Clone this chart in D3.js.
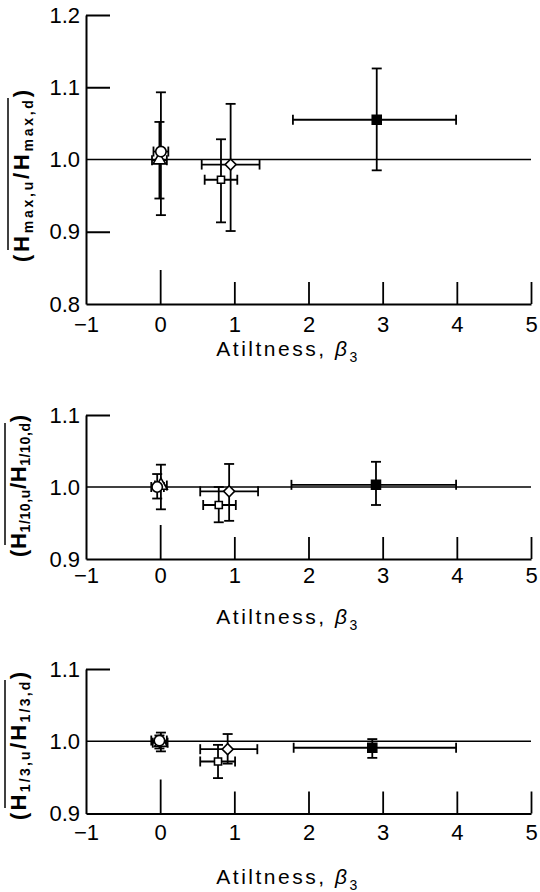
<!DOCTYPE html>
<html>
<meta charset="utf-8">
<style>
body { margin: 0; background: #fff; }
svg { display: block; }
.tick text, .lbl { font-family: "Liberation Sans", Arial, sans-serif; fill: #000; }
.domain, .tick line { stroke: #000; }
</style>
<body>
<script src="https://cdn.jsdelivr.net/npm/d3@7"></script>
<script>

// marker order used in every panel
var markers = ["triangle", "circle", "square", "diamond", "filled"];
var xTicks = [-1, 0, 1, 2, 3, 4, 5];

// panel 1 : H max
var maxX   = [-0.01, 0.01, 0.82, 0.95, 2.92];
var maxXLo = [-0.11, -0.09, 0.60, 0.56, 1.79];
var maxXHi = [0.09, 0.11, 1.04, 1.34, 3.99];
var maxY   = [0.999, 1.011, 0.972, 0.993, 1.055];
var maxYLo = [0.946, 0.923, 0.913, 0.901, 0.985];
var maxYHi = [1.052, 1.093, 1.028, 1.077, 1.126];

// panel 2 : H 1/10
var tenX   = [0.01, -0.04, 0.79, 0.93, 2.91];
var tenXLo = [-0.07, -0.12, 0.58, 0.54, 1.77];
var tenXHi = [0.09, 0.05, 1.02, 1.32, 3.99];
var tenY   = [1.002, 1.000, 0.975, 0.994, 1.003];
var tenYLo = [0.969, 0.984, 0.951, 0.953, 0.975];
var tenYHi = [1.031, 1.018, 1.000, 1.032, 1.035];

// panel 3 : H 1/3
var thirdX   = [0.01, -0.01, 0.78, 0.91, 2.86];
var thirdXLo = [-0.10, -0.12, 0.54, 0.54, 1.80];
var thirdXHi = [0.10, 0.09, 1.01, 1.31, 3.99];
var thirdY   = [0.998, 1.001, 0.972, 0.989, 0.991];
var thirdYLo = [0.986, 0.990, 0.949, 0.969, 0.977];
var thirdYHi = [1.012, 1.008, 0.995, 1.010, 1.003];

var svg = d3.select("body").append("svg")
    .attr("width", 540)
    .attr("height", 892);

var x = d3.scaleLinear().domain([-1, 5]).range([86, 531]);

function rows(xs, xlo, xhi, ys, ylo, yhi) {
  return markers.map(function(m, i) {
    return {m: m, x: xs[i], xlo: xlo[i], xhi: xhi[i], y: ys[i], ylo: ylo[i], yhi: yhi[i]};
  });
}

var panels = [
  {data: rows(maxX, maxXLo, maxXHi, maxY, maxYLo, maxYHi), domain: [0.8, 1.2], top: 15, bottom: 304,
   yTicks: [0.8, 0.9, 1.0, 1.1, 1.2], sub: ["max,u", "max,d"], titleY: 356, labY: 176, labX: 22, labLen: 172, pad: 12},
  {data: rows(tenX, tenXLo, tenXHi, tenY, tenYLo, tenYHi), domain: [0.9, 1.1], top: 415, bottom: 559,
   yTicks: [0.9, 1.0, 1.1], sub: ["1/10,u", "1/10,d"], titleY: 624, labY: 486, labX: 19, labLen: 142, pad: 8},
  {data: rows(thirdX, thirdXLo, thirdXHi, thirdY, thirdYLo, thirdYHi), domain: [0.9, 1.1], top: 669, bottom: 813.5,
   yTicks: [0.9, 1.0, 1.1], sub: ["1/3,u", "1/3,d"], titleY: 884, labY: 746, labX: 19, labLen: 148, pad: 11}
];

var sym = {
  triangle: d3.symbol().type(d3.symbolTriangle).size(70),
  circle: d3.symbol().type(d3.symbolCircle).size(85),
  square: d3.symbol().type(d3.symbolSquare).size(50),
  diamond: d3.symbol().type(d3.symbolSquare).size(60),
  filled: d3.symbol().type(d3.symbolSquare).size(80)
};

panels.forEach(function(p) {
  var y = d3.scaleLinear().domain(p.domain).range([p.bottom, p.top]);
  var g = svg.append("g");

  // y axis, inward ticks
  var ya = g.append("g")
    .attr("transform", "translate(" + x(-1) + ",0)")
    .call(d3.axisLeft(y).tickValues(p.yTicks).tickFormat(d3.format(".1f"))
      .tickSizeInner(-24).tickSizeOuter(0).tickPadding(6));
  ya.select(".domain").attr("stroke-width", 2);
  ya.selectAll(".tick line").attr("stroke-width", 2)
    .filter(function(d) { return d === 1.0 || d === p.domain[0]; }).remove();
  ya.selectAll(".tick text").attr("font-size", 22);

  // x axis, inward ticks
  var xa = g.append("g")
    .attr("transform", "translate(0," + p.bottom + ")")
    .call(d3.axisBottom(x).tickValues(xTicks).tickFormat(d3.format("d"))
      .tickSizeInner(-22).tickSizeOuter(0).tickPadding(p.pad));
  xa.select(".domain").attr("stroke-width", 2);
  xa.selectAll(".tick line").attr("stroke-width", 1.8)
    .filter(function(d) { return d === 0; }).attr("y2", -34);
  xa.selectAll(".tick line").filter(function(d) { return d === -1; }).remove();
  xa.selectAll(".tick text").attr("font-size", 22);

  // reference line at 1.0
  g.append("line")
    .attr("x1", x(-1)).attr("x2", x(5))
    .attr("y1", y(1)).attr("y2", y(1))
    .attr("stroke", "#000").attr("stroke-width", 1.5);

  // error bars
  var eb = g.append("g").attr("stroke", "#000").attr("stroke-width", 1.8);
  p.data.forEach(function(d) {
    eb.append("line").attr("x1", x(d.x)).attr("x2", x(d.x)).attr("y1", y(d.ylo)).attr("y2", y(d.yhi));
    eb.append("line").attr("x1", x(d.x) - 5).attr("x2", x(d.x) + 5).attr("y1", y(d.ylo)).attr("y2", y(d.ylo));
    eb.append("line").attr("x1", x(d.x) - 5).attr("x2", x(d.x) + 5).attr("y1", y(d.yhi)).attr("y2", y(d.yhi));
    eb.append("line").attr("x1", x(d.xlo)).attr("x2", x(d.xhi)).attr("y1", y(d.y)).attr("y2", y(d.y));
    eb.append("line").attr("x1", x(d.xlo)).attr("x2", x(d.xlo)).attr("y1", y(d.y) - 5).attr("y2", y(d.y) + 5);
    eb.append("line").attr("x1", x(d.xhi)).attr("x2", x(d.xhi)).attr("y1", y(d.y) - 5).attr("y2", y(d.y) + 5);
  });

  // markers
  g.selectAll(".mk")
    .data(p.data)
    .enter()
    .append("path")
    .attr("class", "mk")
    .attr("d", function(d) { return sym[d.m](); })
    .attr("transform", function(d) {
      return "translate(" + x(d.x) + "," + y(d.y) + ")" + (d.m === "diamond" ? " rotate(45)" : "");
    })
    .attr("fill", function(d) { return d.m === "filled" ? "#000" : "#fff"; })
    .attr("stroke", "#000")
    .attr("stroke-width", 1.6);

  // x title
  var t = g.append("text").attr("class", "lbl")
    .attr("x", 288).attr("y", p.titleY)
    .attr("text-anchor", "middle")
    .attr("font-size", 21)
    .attr("letter-spacing", 2.5);
  t.append("tspan").text("Atiltness,  ");
  t.append("tspan").attr("font-style", "italic").text("β");
  t.append("tspan").attr("font-size", 14).attr("dy", 6).text("3");

  // y title, rotated with overbar
  var lg = g.append("g").attr("transform", "translate(" + p.labX + "," + p.labY + ") rotate(-90)");
  var yt = lg.append("text").attr("class", "lbl")
    .attr("text-anchor", "middle")
    .attr("font-size", 22)
    .attr("font-weight", "bold")
    .attr("textLength", p.labLen)
    .attr("lengthAdjust", "spacing")
    .attr("dy", 7);
  yt.append("tspan").text("(H");
  yt.append("tspan").attr("font-size", 14).attr("dy", 4).text(p.sub[0]);
  yt.append("tspan").attr("dy", -4).text("/H");
  yt.append("tspan").attr("font-size", 14).attr("dy", 4).text(p.sub[1]);
  yt.append("tspan").attr("dy", -4).text(")");
  var bb = yt.node().getBBox();
  lg.append("line")
    .attr("x1", bb.x + 12).attr("x2", bb.x + bb.width - 8)
    .attr("y1", bb.y - 1).attr("y2", bb.y - 1)
    .attr("stroke", "#000").attr("stroke-width", 1.5);
});

</script>
</body>
</html>
